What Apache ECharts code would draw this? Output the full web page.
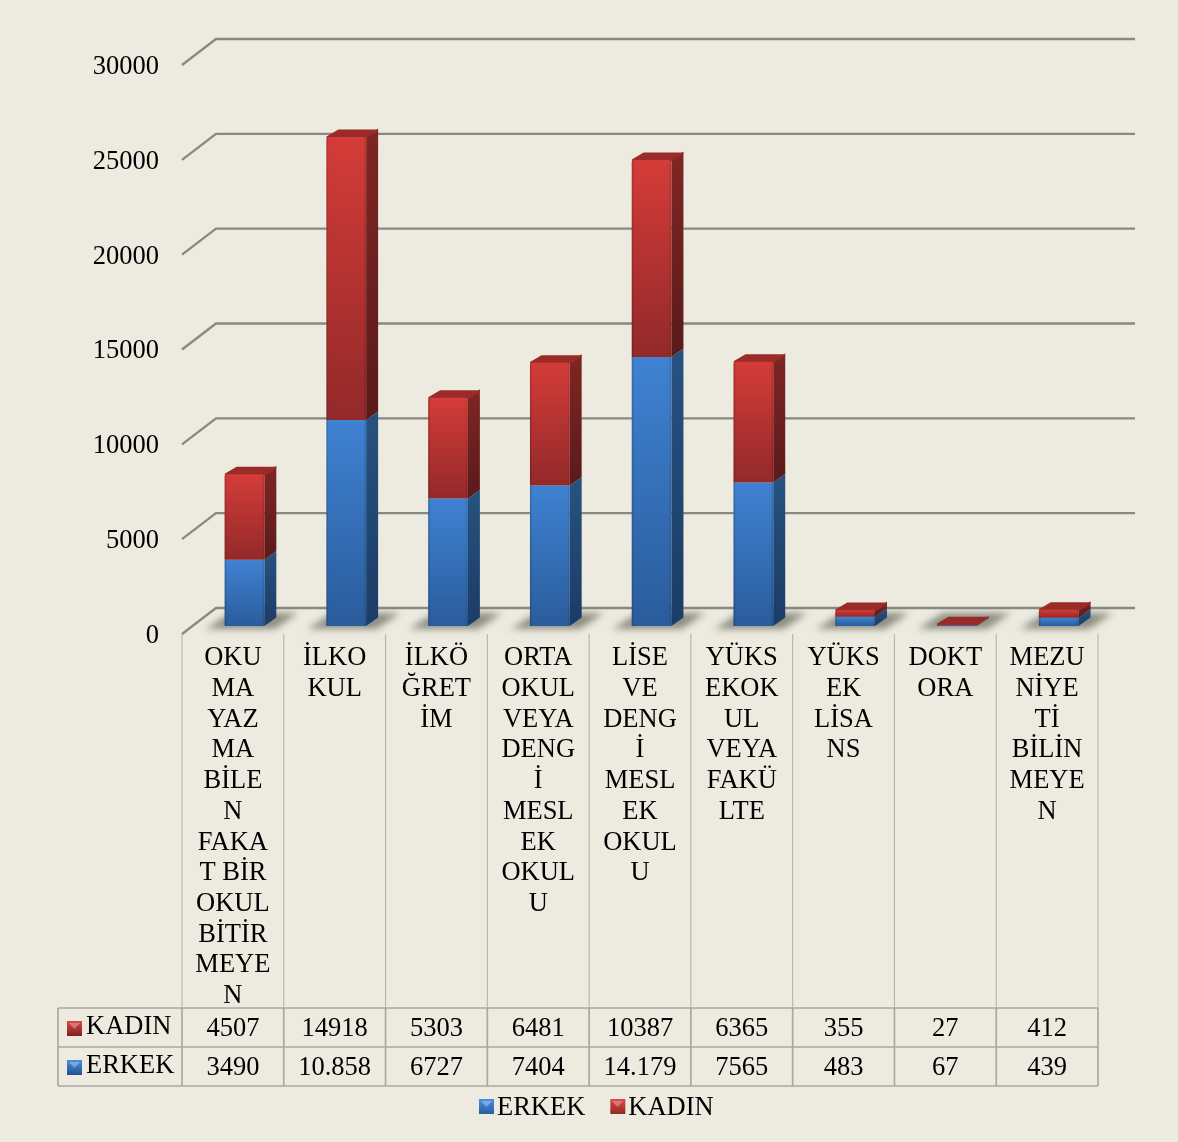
<!DOCTYPE html>
<html>
<head>
<meta charset="utf-8">
<style>
html,body{margin:0;padding:0;background:#fff;}
#main{width:1178px;height:1142px;}
</style>
<script src="https://cdn.jsdelivr.net/npm/echarts@6/dist/echarts.min.js"></script>
</head>
<body>
<div id="main"></div>
<script>
var categories = [
	'OKU\nMA\nYAZ\nMA\nBİLE\nN\nFAKA\nT BİR\nOKUL\nBİTİR\nMEYE\nN',
	'İLKO\nKUL',
	'İLKÖ\nĞRET\nİM',
	'ORTA\nOKUL\nVEYA\nDENG\nİ\nMESL\nEK\nOKUL\nU',
	'LİSE\nVE\nDENG\nİ\nMESL\nEK\nOKUL\nU',
	'YÜKS\nEKOK\nUL\nVEYA\nFAKÜ\nLTE',
	'YÜKS\nEK\nLİSA\nNS',
	'DOKT\nORA',
	'MEZU\nNİYE\nTİ\nBİLİN\nMEYE\nN'
];
var erkek = [3490, 10858, 6727, 7404, 14179, 7565, 483, 67, 439];
var kadin = [4507, 14918, 5303, 6481, 10387, 6365, 355, 27, 412];
var erkekLabels = ['3490', '10.858', '6727', '7404', '14.179', '7565', '483', '67', '439'];
var kadinLabels = ['4507', '14918', '5303', '6481', '10387', '6365', '355', '27', '412'];
var ticks = [0, 5000, 10000, 15000, 20000, 25000, 30000];

var FONT = '"Liberation Serif","Times New Roman",serif';
var BG = '#edebe0';
var LINE = '#a9a9a2';
var ROW_TOP = 1008, ROW_MID = 1047, ROW_BOT = 1086, TABLE_LEFT = 58;
var WALL_DX = 34, WALL_DY = 26;
var BAR_DX0 = 11.6, BAR_DY0 = 8, BAR_DX = 12, BAR_DY = 8.5;
var FAR = 3000;

function vgrad(a, b) {
	return {type: 'linear', x: 0, y: 0, x2: 0, y2: 1, colorStops: [{offset: 0, color: a}, {offset: 1, color: b}]};
}
var COLORS = {
	erkek: {front: ['#3f82d2', '#2a5c9c'], side: ['#27527f', '#1b3c66'], top: '#2f639f', legend: ['#4a90e0', '#23508c']},
	kadin: {front: ['#d43c38', '#93292a'], side: ['#7f2624', '#5a1a1a'], top: '#9b2b29', legend: ['#dc4a46', '#80201f']}
};

function poly(pts, fill, extra) {
	var style = {fill: fill};
	for (var k in extra) style[k] = extra[k];
	return {type: 'polygon', shape: {points: pts}, style: style, silent: true};
}

// one 3D segment of the stack, drawn between two values
function segment(api, idx, from, to, c, isTop) {
	var base = api.coord([idx, from]);
	var head = api.coord([idx, to]);
	var w = api.size([1, 0])[0] * 0.39;
	var l = base[0] - w / 2 + BAR_DX0;
	var r = l + w;
	var y0 = base[1] - BAR_DY0;
	var y1 = head[1] - BAR_DY0;
	var kids = [];
	kids.push(poly([[r, y0], [r + BAR_DX, y0 - BAR_DY], [r + BAR_DX, y1 - BAR_DY], [r, y1]], vgrad(c.side[0], c.side[1])));
	if (isTop) {
		// rounded lid sits behind the front face
		kids.push(poly([[l + 1, y1], [l + BAR_DX, y1 - BAR_DY + 2], [r + BAR_DX - 1, y1 - BAR_DY + 2], [r, y1]], c.top, {stroke: c.top, lineWidth: 2, lineJoin: 'round'}));
	}
	var radius = isTop ? [2, 2, 0, 0] : 0;
	kids.push({type: 'rect', silent: true, shape: {x: l, y: y1, width: w, height: y0 - y1, r: radius}, style: {fill: vgrad(c.front[0], c.front[1])}});
	// darker rims on the front face
	kids.push({type: 'rect', silent: true, shape: {x: l, y: y1, width: w, height: y0 - y1, r: radius}, style: {fill: {
		type: 'linear', x: 0, y: 0, x2: 1, y2: 0,
		colorStops: [
			{offset: 0, color: 'rgba(0,0,0,0.22)'}, {offset: 0.06, color: 'rgba(0,0,0,0)'},
			{offset: 0.93, color: 'rgba(0,0,0,0)'}, {offset: 1, color: 'rgba(0,0,0,0.15)'}
		]
	}}});
	return kids;
}

// soft ground shadow, only the blur of an off-canvas shape lands on the page
function renderShadows(params, api) {
	var idx = api.value(0);
	var base = api.coord([idx, 0]);
	var w = api.size([1, 0])[0] * 0.39;
	var l = base[0] - w / 2 + BAR_DX0;
	var y = base[1];
	return poly([
		[l - 19 - FAR, y - 5], [l + w + 10 - FAR, y - 5], [l + w + 34 - FAR, y - 21], [l + 6 - FAR, y - 21]
	], '#000', {shadowBlur: 7, shadowOffsetX: FAR, shadowColor: 'rgba(110,110,98,0.75)'});
}

function renderBars(params, api) {
	var idx = api.value(0);
	var e = api.value(1);
	var k = api.value(2);
	var kids = segment(api, idx, 0, e, COLORS.erkek, false);
	kids = kids.concat(segment(api, idx, e, e + k, COLORS.kadin, true));
	return {type: 'group', children: kids};
}

// back wall gridlines with the slanted floor edge
function renderWall(params, api) {
	var v = api.value(0);
	var a = api.coord([0, v]);
	var left = params.coordSys.x;
	var right = left + params.coordSys.width;
	return {
		type: 'polyline', silent: true,
		shape: {points: [[left, a[1]], [left + WALL_DX, a[1] - WALL_DY], [right + 37, a[1] - WALL_DY]]},
		style: {fill: 'none', stroke: '#888886', lineWidth: 2.3}
	};
}

function marker(x, y, c) {
	return [
		{type: 'rect', shape: {x: x, y: y, width: 15, height: 15}, style: {fill: vgrad(c.legend[0], c.legend[1])}, silent: true},
		poly([[x + 2, y + 2], [x + 13, y + 2], [x + 7.5, y + 8]], 'rgba(255,255,255,0.3)')
	];
}

// the data table under the plot
function renderRow(labels, rowName, rowY, c) {
	return function (params, api) {
		var idx = api.value(0);
		var x = api.coord([idx, 0])[0];
		var kids = [{
			type: 'text', silent: true,
			style: {x: x, y: rowY, text: labels[idx], fill: '#000', font: '26.5px ' + FONT, textAlign: 'center', textVerticalAlign: 'middle'}
		}];
		if (idx === 0) {
			kids = kids.concat(marker(TABLE_LEFT + 9, rowY - 8, c));
			kids.push({
				type: 'text', silent: true,
				style: {x: TABLE_LEFT + 28, y: rowY - 2, text: rowName, fill: '#000', font: '26.5px ' + FONT, textAlign: 'left', textVerticalAlign: 'middle'}
			});
		}
		return {type: 'group', children: kids};
	};
}

function renderTableLines(params, api) {
	var sys = params.coordSys;
	var step = sys.width / categories.length;
	var kids = [];
	for (var i = 0; i <= categories.length; i++) {
		var x = sys.x + step * i;
		kids.push({type: 'line', silent: true, shape: {x1: x, y1: sys.y + sys.height, x2: x, y2: ROW_TOP}, style: {stroke: '#b4b4ac', lineWidth: 1.1}});
		kids.push({type: 'line', silent: true, shape: {x1: x, y1: ROW_TOP, x2: x, y2: ROW_BOT}, style: {stroke: LINE, lineWidth: 1.7}});
	}
	[ROW_TOP, ROW_MID, ROW_BOT].forEach(function (y) {
		kids.push({type: 'line', silent: true, shape: {x1: TABLE_LEFT, y1: y, x2: sys.x + sys.width, y2: y}, style: {stroke: LINE, lineWidth: 1.7}});
	});
	kids.push({type: 'line', silent: true, shape: {x1: TABLE_LEFT, y1: ROW_TOP, x2: TABLE_LEFT, y2: ROW_BOT}, style: {stroke: LINE, lineWidth: 1.7}});
	return {type: 'group', children: kids};
}

var barData = categories.map(function (c, i) { return [i, erkek[i], kadin[i]]; });
var indexData = categories.map(function (c, i) { return [i]; });

var option = {
	backgroundColor: BG,
	animation: false,
	textStyle: {fontFamily: FONT},
	grid: {left: 182, top: 65, width: 916, height: 569},
	legend: {
		left: 474, top: 1090, itemWidth: 15, itemHeight: 19, itemGap: 25,
		// key sits above the text middle, the empty tail of the path pushes it up
		icon: 'path://M0 0H15V15H0Z M0 19H0.01Z',
		selectedMode: false,
		textStyle: {fontFamily: FONT, fontSize: 26.5, color: '#000', padding: [0, 0, 0, -2]},
		data: [
			{name: 'ERKEK', itemStyle: {color: vgrad(COLORS.erkek.legend[0], COLORS.erkek.legend[1])}},
			{name: 'KADIN', itemStyle: {color: vgrad(COLORS.kadin.legend[0], COLORS.kadin.legend[1])}}
		]
	},
	xAxis: {
		type: 'category', data: categories,
		axisLine: {show: false}, axisTick: {show: false},
		axisLabel: {interval: 0, color: '#000', fontFamily: FONT, fontSize: 26.5, lineHeight: 30.7, margin: 9, verticalAlign: 'top'}
	},
	yAxis: {
		type: 'value', min: 0, max: 30000, interval: 5000,
		splitLine: {show: false}, axisLine: {show: false}, axisTick: {show: false},
		axisLabel: {
			margin: 23,
			formatter: function (v) { return '{t|' + v + '}'; },
			rich: {t: {color: '#000', fontFamily: FONT, fontSize: 26.5, padding: [4, 0, 0, 0]}}
		}
	},
	series: [
		{type: 'custom', name: 'wall', silent: true, renderItem: renderWall, data: ticks.map(function (t) { return [t]; }), encode: {y: 0}, clip: false, z: 1},
		{type: 'custom', name: 'lines', silent: true, renderItem: renderTableLines, data: [[0]], clip: false, z: 1},
		{type: 'custom', name: 'shadow', silent: true, renderItem: renderShadows, data: indexData, clip: false, z: 2},
		{type: 'custom', name: 'ERKEK', silent: true, renderItem: renderBars, data: barData, encode: {x: 0, y: [1, 2]}, clip: false, z: 3, itemStyle: {color: COLORS.erkek.front[0]}},
		{type: 'custom', name: 'KADIN', silent: true, renderItem: renderRow(kadinLabels, 'KADIN', 1029, COLORS.kadin), data: indexData, clip: false, z: 4, itemStyle: {color: COLORS.kadin.front[0]}},
		{type: 'custom', name: 'erkekRow', silent: true, renderItem: renderRow(erkekLabels, 'ERKEK', 1068, COLORS.erkek), data: indexData, clip: false, z: 4}
	],
	// highlight notch on the legend keys
	graphic: [
		{type: 'polygon', silent: true, z: 100, shape: {points: [[481, 1101], [492, 1101], [486.5, 1107]]}, style: {fill: 'rgba(255,255,255,0.3)'}},
		{type: 'polygon', silent: true, z: 100, shape: {points: [[612, 1101], [623, 1101], [617.5, 1107]]}, style: {fill: 'rgba(255,255,255,0.3)'}}
	]
};

var myChart = echarts.init(document.getElementById('main'), null, {renderer: 'canvas'});
myChart.setOption(option);
</script>
</body>
</html>
